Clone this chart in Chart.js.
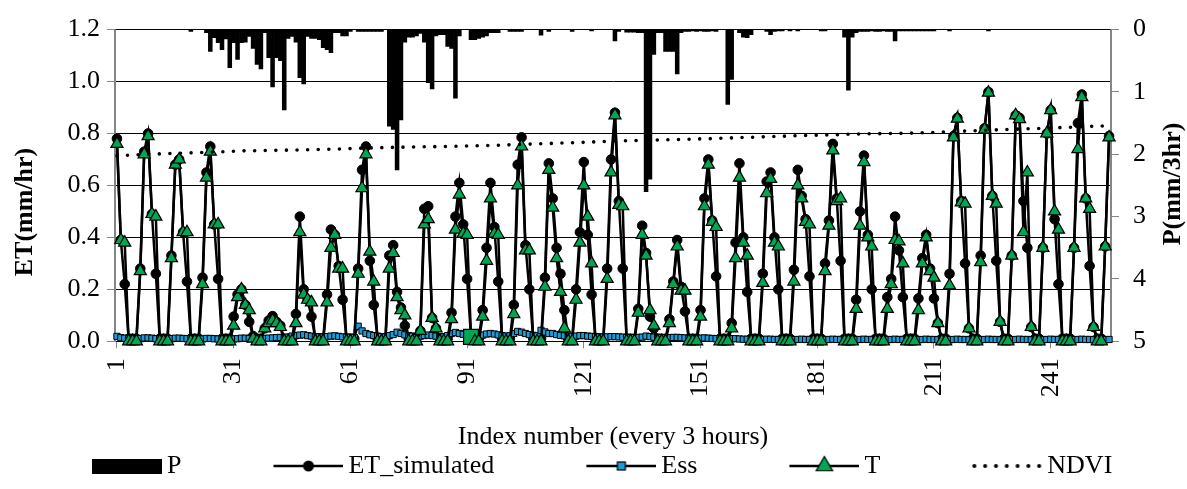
<!DOCTYPE html>
<html>
<head>
<meta charset="utf-8">
<script src="https://cdn.jsdelivr.net/npm/chart.js@4.4.1/dist/chart.umd.min.js"></script>
<style>
html,body{margin:0;padding:0;background:#fff;}
canvas{display:block;}
</style>
</head>
<body>
<canvas id="c" width="1187" height="489"></canvas>
<script>
// ---------- DATA ----------
const categories = Array.from({length: 256}, (_, i) => String(i + 1));
const tickLabels = ['1','31','61','91','121','151','181','211','241'];

const ET_simulated = [
0.78,0.39,0.22,0.01,0.01,0.01,0.28,0.73,
0.80,0.49,0.26,0.01,0.01,0.01,0.33,0.68,
0.70,0.42,0.23,0.01,0.01,0.01,0.245,0.65,
0.75,0.45,0.24,0.01,0.01,0.01,0.095,0.18,
0.20,0.14,0.075,0.02,0.01,0.01,0.05,0.08,
0.097,0.075,0.06,0.01,0.01,0.01,0.105,0.48,
0.20,0.16,0.095,0.01,0.01,0.01,0.18,0.43,
0.41,0.29,0.16,0.01,0.01,0.01,0.28,0.66,
0.75,0.31,0.14,0.01,0.01,0.01,0.33,0.37,
0.19,0.13,0.06,0.01,0.01,0.01,0.04,0.51,
0.52,0.09,0.05,0.01,0.01,0.01,0.11,0.48,
0.61,0.45,0.24,0.02,0.01,0.01,0.12,0.36,
0.61,0.44,0.23,0.01,0.01,0.01,0.14,0.68,
0.785,0.37,0.20,0.01,0.01,0.01,0.245,0.685,
0.55,0.36,0.26,0.12,0.01,0.01,0.20,0.42,
0.69,0.41,0.18,0.01,0.01,0.01,0.28,0.70,
0.88,0.54,0.28,0.01,0.01,0.01,0.125,0.445,
0.34,0.095,0.05,0.01,0.01,0.01,0.085,0.23,
0.39,0.21,0.115,0.01,0.01,0.01,0.12,0.55,
0.70,0.465,0.25,0.01,0.01,0.01,0.07,0.38,
0.685,0.40,0.19,0.01,0.01,0.01,0.26,0.615,
0.65,0.40,0.20,0.01,0.01,0.01,0.275,0.66,
0.56,0.47,0.25,0.01,0.01,0.01,0.30,0.465,
0.76,0.55,0.31,0.01,0.01,0.01,0.16,0.50,
0.715,0.41,0.20,0.01,0.01,0.01,0.17,0.24,
0.48,0.35,0.17,0.01,0.01,0.01,0.165,0.32,
0.41,0.28,0.165,0.07,0.01,0.01,0.26,0.79,
0.86,0.54,0.30,0.05,0.01,0.01,0.33,0.82,
0.96,0.56,0.31,0.075,0.01,0.01,0.33,0.87,
0.86,0.54,0.36,0.055,0.01,0.01,0.36,0.80,
0.89,0.47,0.22,0.01,0.01,0.01,0.36,0.84,
0.95,0.55,0.29,0.055,0.01,0.01,0.365,0.79
];

const T = [
0.76,0.39,0.38,0,0,0,0.27,0.72,
0.79,0.49,0.48,0,0,0,0.32,0.68,
0.70,0.42,0.42,0,0,0,0.22,0.63,
0.73,0.45,0.45,0,0,0,0.06,0.17,
0.20,0.14,0.12,0.01,0,0,0.05,0.07,
0.08,0.07,0.055,0,0,0,0.07,0.42,
0.18,0.16,0.15,0,0,0,0.15,0.36,
0.41,0.28,0.28,0,0,0,0.26,0.59,
0.72,0.345,0.23,0,0,0,0.28,0.34,
0.17,0.12,0.10,0,0,0,0.04,0.45,
0.47,0.09,0.05,0,0,0,0.085,0.43,
0.565,0.415,0.41,0.017,0,0,0.095,0.31,
0.55,0.415,0.41,0,0,0,0.105,0.60,
0.75,0.35,0.35,0,0,0,0.21,0.66,
0.515,0.32,0.19,0.05,0,0,0.16,0.38,
0.60,0.48,0.30,0,0,0,0.24,0.65,
0.87,0.525,0.52,0,0,0,0.11,0.41,
0.33,0.12,0.06,0,0,0,0.07,0.22,
0.365,0.195,0.195,0,0,0,0.095,0.52,
0.68,0.46,0.44,0,0,0,0.05,0.32,
0.63,0.38,0.33,0,0,0,0.225,0.57,
0.625,0.38,0.365,0,0,0,0.23,0.60,
0.55,0.46,0.45,0,0,0,0.27,0.445,
0.735,0.54,0.55,0,0,0,0.125,0.445,
0.69,0.40,0.365,0,0,0,0.125,0.22,
0.39,0.385,0.30,0,0,0,0.12,0.30,
0.40,0.27,0.245,0.07,0,0,0.215,0.785,
0.857,0.535,0.53,0.05,0,0,0.305,0.815,
0.957,0.56,0.53,0.075,0,0,0.33,0.87,
0.855,0.42,0.65,0.055,0,0,0.36,0.80,
0.89,0.50,0.43,0,0,0,0.36,0.74,
0.94,0.55,0.51,0.055,0,0,0.365,0.785
];

const Ess = [
0.019,0.014,0.012,0.010,0.009,0.009,0.010,0.013,
0.013,0.012,0.010,0.009,0.009,0.008,0.010,0.012,
0.012,0.011,0.010,0.009,0.008,0.008,0.009,0.011,
0.011,0.010,0.009,0.008,0.008,0.008,0.009,0.010,
0.012,0.012,0.011,0.010,0.010,0.010,0.011,0.012,
0.013,0.014,0.015,0.014,0.016,0.020,0.022,0.024,
0.025,0.022,0.020,0.018,0.017,0.016,0.018,0.020,
0.021,0.019,0.017,0.016,0.015,0.015,0.058,0.040,
0.030,0.025,0.022,0.020,0.018,0.017,0.022,0.026,
0.035,0.030,0.025,0.022,0.020,0.019,0.020,0.022,
0.024,0.022,0.020,0.018,0.017,0.022,0.030,0.034,
0.030,0.027,0.024,0.022,0.020,0.020,0.024,0.028,
0.030,0.028,0.025,0.022,0.020,0.021,0.030,0.038,
0.035,0.030,0.026,0.023,0.021,0.042,0.036,0.030,
0.030,0.026,0.023,0.021,0.020,0.019,0.020,0.022,
0.022,0.020,0.019,0.018,0.017,0.016,0.017,0.018,
0.018,0.017,0.016,0.015,0.014,0.014,0.015,0.016,
0.020,0.018,0.016,0.015,0.014,0.013,0.014,0.015,
0.015,0.014,0.013,0.012,0.012,0.011,0.012,0.013,
0.012,0.011,0.010,0.010,0.009,0.009,0.010,0.010,
0.009,0.008,0.008,0.007,0.007,0.007,0.007,0.008,
0.008,0.007,0.007,0.006,0.006,0.006,0.006,0.007,
0.008,0.007,0.007,0.006,0.006,0.006,0.006,0.007,
0.008,0.007,0.007,0.006,0.006,0.006,0.006,0.007,
0.008,0.007,0.007,0.006,0.006,0.006,0.006,0.007,
0.008,0.007,0.007,0.006,0.006,0.006,0.006,0.007,
0.008,0.007,0.007,0.006,0.006,0.006,0.006,0.007,
0.008,0.007,0.007,0.006,0.006,0.006,0.006,0.007,
0.008,0.007,0.007,0.006,0.006,0.006,0.006,0.007,
0.008,0.007,0.007,0.006,0.006,0.006,0.006,0.007,
0.008,0.007,0.007,0.006,0.006,0.006,0.006,0.007,
0.008,0.007,0.007,0.006,0.006,0.006,0.006,0.007
];

const P = [
0,0,0,0,0,0,0,0,
0,0,0,0,0,0,0,0,
0,0,0,0.03,0,0,0,0.05,
0.35,0.13,0.21,0.32,0.15,0.61,0.21,0.48,
0.21,0.20,0.11,0.30,0.56,0.63,0.05,0.45,
0.92,0.45,0.50,1.29,0.14,0.11,0.20,0.77,
0.87,0.11,0.14,0.14,0.16,0.29,0.32,0.37,
0.05,0.05,0.10,0.10,0.03,0,0.03,0.03,
0.03,0.03,0.03,0.03,0.03,0,1.55,1.60,
2.25,1.45,0.20,0.12,0.12,0.10,0.06,0.20,
0.85,0.95,0.10,0.08,0.08,0.27,0.30,1.10,
0.10,0,0,0.16,0.16,0.14,0.12,0.10,
0.05,0.05,0.05,0,0,0.03,0.03,0.03,
0.03,0,0,0,0,0.09,0,0.03,
0,0,0,0,0,0.03,0,0,
0,0,0.02,0,0,0,0,0,
0.18,0.03,0,0.04,0.04,0.04,0.05,0.05,
2.60,2.40,0.40,0.05,0.05,0.35,0.35,0.35,
0.71,0.05,0.03,0.03,0.02,0.03,0.02,0.03,
0.03,0.02,0.03,0,0,1.20,0.80,0,
0.05,0.12,0.13,0.08,0,0,0,0.03,
0.08,0.03,0.02,0.02,0,0.02,0,0.02,
0,0,0,0,0,0.02,0.02,0,
0,0,0,0.12,0.97,0.12,0.05,0.03,
0.03,0.03,0.02,0.03,0.03,0.02,0.03,0.03,
0.18,0.02,0.02,0.02,0.02,0.02,0.02,0.02,
0.02,0.02,0.02,0,0,0,0.02,0,
0,0,0,0,0,0,0,0,
0.02,0,0,0,0,0,0,0,
0,0,0,0,0,0,0,0,
0,0,0,0,0,0,0,0,
0,0,0,0,0,0,0,0
];

const ndviIndex = [1,9,17,25,33,41,49,57,65,73,81,89,97,105,113,121,129,137,145,153,161,169,177,185,193,201,209,217,225,233,241,249,256];
const ndviValue = [0.714,0.72,0.724,0.728,0.733,0.735,0.737,0.740,0.744,0.747,0.749,0.751,0.754,0.758,0.762,0.766,0.771,0.774,0.777,0.780,0.784,0.788,0.792,0.795,0.799,0.800,0.803,0.808,0.813,0.817,0.821,0.826,0.830];

const bigSquareCategory = '92';   // the single large square marker on T

const seriesLabels = ['P', 'ET_simulated', 'Ess', 'T', 'NDVI'];
const xTitle = 'Index number (every 3 hours)';
const yLeftTitle = 'ET(mm/hr)';
const yRightTitle = 'P(mm/3hr)';

// ---------- STYLE ----------
const FONT = "'Liberation Serif', 'Times New Roman', serif";
const GREEN = '#00A651';
const BLUE = '#1E9BD7';
const AXIS_GREY = '#868686';
Chart.defaults.font.family = FONT;
Chart.defaults.color = '#000';

function makeIcon(kind) {
  const c = document.createElement('canvas');
  c.width = 160; c.height = 26;
  const g = c.getContext('2d');
  const x0 = 90, x1 = 160, cy = 13, cx = 125;
  g.fillStyle = '#000'; g.strokeStyle = '#000';
  if (kind === 'bar') {
    g.fillRect(x0, 6, 70, 15);
  } else if (kind === 'dots') {
    for (let j = 0; j < 7; j++) {
      g.beginPath(); g.arc(x0 + 2 + j * 10.8, cy, 2, 0, Math.PI * 2); g.fill();
    }
  } else {
    g.lineWidth = 2.5;
    g.beginPath(); g.moveTo(x0, cy); g.lineTo(x1, cy); g.stroke();
    g.lineWidth = 1.2;
    if (kind === 'circle') {
      g.beginPath(); g.arc(cx, cy, 5.5, 0, Math.PI * 2); g.fill();
    } else if (kind === 'square') {
      g.fillStyle = BLUE; g.fillRect(cx - 4, cy - 4, 8, 8); g.strokeRect(cx - 4, cy - 4, 8, 8);
    } else if (kind === 'triangle') {
      const r = 9.5;
      g.beginPath();
      g.moveTo(cx, cy - r);
      g.lineTo(cx + 0.866 * r, cy + 0.5 * r);
      g.lineTo(cx - 0.866 * r, cy + 0.5 * r);
      g.closePath();
      g.fillStyle = GREEN; g.fill(); g.stroke();
    }
  }
  return c;
}
const legendIcons = [makeIcon('bar'), makeIcon('circle'), makeIcon('square'), makeIcon('triangle'), makeIcon('dots')];

const axisTitlesPlugin = {
  id: 'axisTitles',
  afterDraw(chart) {
    const g = chart.ctx;
    g.save();
    g.font = 'bold 26px ' + FONT;
    g.fillStyle = '#000';
    g.textAlign = 'center';
    g.textBaseline = 'middle';
    g.translate(25, 212); g.rotate(-Math.PI / 2); g.fillText(yLeftTitle, 0, 0);
    g.restore();
    g.save();
    g.font = 'bold 26px ' + FONT;
    g.fillStyle = '#000';
    g.textAlign = 'center';
    g.textBaseline = 'middle';
    g.translate(1173, 184); g.rotate(-Math.PI / 2); g.fillText(yRightTitle, 0, 0);
    g.restore();
  }
};

const ndviPoints = ndviIndex.map((c, i) => ({x: String(c), y: ndviValue[i]}));

new Chart(document.getElementById('c'), {
  type: 'bar',
  data: {
    labels: categories,
    datasets: [
      {type: 'bar', label: seriesLabels[0], data: P, yAxisID: 'y2', backgroundColor: '#000',
       borderWidth: 0, barPercentage: 1, categoryPercentage: 1, order: 5},
      {type: 'line', label: seriesLabels[1], data: ET_simulated, yAxisID: 'y', borderColor: '#000', borderWidth: 2.5,
       pointStyle: 'circle', pointRadius: 4.8, pointBackgroundColor: '#000', pointBorderColor: '#000',
       pointBorderWidth: 1, tension: 0, order: 3, clip: false},
      {type: 'line', label: seriesLabels[2], data: Ess, yAxisID: 'y', borderColor: '#000', borderWidth: 2,
       pointStyle: 'rect', pointRadius: 4.4, pointBackgroundColor: BLUE, pointBorderColor: '#000',
       pointBorderWidth: 1, tension: 0, order: 2, clip: false},
      {type: 'line', label: seriesLabels[3], data: T, yAxisID: 'y', borderColor: '#000', borderWidth: 2.5,
       pointStyle: ctx => categories[ctx.dataIndex] === bigSquareCategory ? 'rect' : 'triangle',
       pointRadius: ctx => categories[ctx.dataIndex] === bigSquareCategory ? 10.5 : 7,
       pointBackgroundColor: GREEN, pointBorderColor: '#000', pointBorderWidth: 1.2,
       tension: 0, order: 1, clip: false},
      {type: 'line', label: seriesLabels[4], data: ndviPoints, yAxisID: 'y', borderColor: '#000', borderWidth: 3.6,
       borderDash: [0, 10.6], borderCapStyle: 'round', pointRadius: 0, tension: 0, order: 0, clip: false}
    ]
  },
  options: {
    responsive: false,
    animation: false,
    devicePixelRatio: 1,
    events: [],
    layout: {padding: {top: 23, left: 0, right: 0, bottom: 0}},
    scales: {
      x: {
        type: 'category',
        offset: true,
        grid: {display: true, drawOnChartArea: false, offset: false, tickLength: 7,
               tickColor: ctx => (tickLabels.includes(categories[ctx.index]) ? AXIS_GREY : 'rgba(0,0,0,0)')},
        border: {display: true, color: '#000', width: 1},
        ticks: {autoSkip: false, maxRotation: 90, minRotation: 90, padding: 10, color: '#000',
                font: {size: 26},
                callback: (v, i) => (tickLabels.includes(categories[i]) ? categories[i] : '')},
        title: {display: true, text: xTitle, color: '#000', font: {size: 26}, padding: {top: 0, bottom: -10}},
        afterFit: s => { s.height = 101.7; }
      },
      y: {
        position: 'left', min: 0, max: 1.2,
        ticks: {stepSize: 0.2, padding: 7, color: '#000', font: {size: 26}, callback: v => Number(v).toFixed(1)},
        grid: {color: '#000', lineWidth: 1, tickLength: 8, tickColor: AXIS_GREY},
        border: {display: true, color: AXIS_GREY, width: 2},
        afterFit: s => { s.width = 115; }
      },
      y2: {
        position: 'right', reverse: true, min: 0, max: 5,
        ticks: {stepSize: 1, padding: 14, color: '#000', font: {size: 26}},
        grid: {drawOnChartArea: false, tickLength: 8, color: AXIS_GREY},
        border: {display: true, color: AXIS_GREY, width: 2},
        afterFit: s => { s.width = 76; }
      }
    },
    plugins: {
      tooltip: {enabled: false},
      legend: {
        position: 'bottom',
        align: 'start',
        labels: {
          usePointStyle: true,
          pointStyleWidth: 144,
          padding: 10,
          color: '#000',
          font: {size: 26},
          generateLabels: chart => chart.data.datasets.map((ds, i) => ({
            text: ds.label, pointStyle: legendIcons[i], fillStyle: 'rgba(0,0,0,0)',
            strokeStyle: 'rgba(0,0,0,0)', lineWidth: 0, hidden: false, datasetIndex: i
          }))
        }
      }
    }
  },
  plugins: [axisTitlesPlugin]
});
</script>
</body>
</html>
